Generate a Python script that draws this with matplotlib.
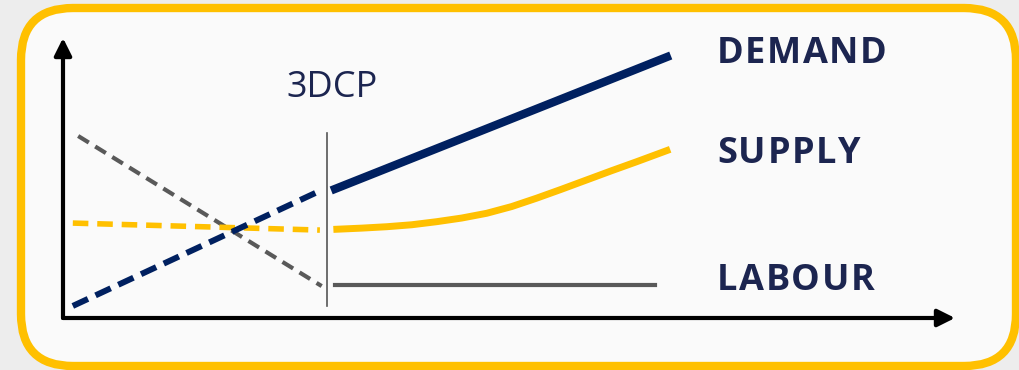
import matplotlib.pyplot as plt
import numpy as np
from matplotlib.patches import FancyBboxPatch
from matplotlib.transforms import offset_copy

# Data (chart units: x 0..10 along the time axis, y 0..10 up the vertical axis)
demand_before_x = [0.11, 2.90]
demand_before_y = [0.43, 4.57]
demand_after_x = [3.05, 6.77]
demand_after_y = [4.61, 9.32]

supply_before_x = [0.11, 2.88]
supply_before_y = [3.39, 3.14]
supply_after_x = [3.07, 3.35, 3.63, 3.91, 4.19, 4.47, 4.75, 5.03, 5.31, 5.59, 5.87, 6.15, 6.43, 6.77]
supply_after_y = [3.17, 3.21, 3.26, 3.33, 3.44, 3.57, 3.74, 3.98, 4.28, 4.60, 4.93, 5.26, 5.58, 5.98]

labour_before_x = [0.17, 2.90]
labour_before_y = [6.50, 1.14]
labour_after_x = [3.05, 6.64]
labour_after_y = [1.18, 1.18]

event_x = 2.96
event_span = [0.43, 6.61]
event_label = "3DCP"

series_labels = ["DEMAND", "SUPPLY", "LABOUR"]
label_base_y = [9.11, 5.54, 1.00]

# Colours
navy = "#002060"
gold = "#FFC000"
grey = "#595959"
text_col = "#1c2550"

fig = plt.figure(figsize=(10.2, 3.7), dpi=100)
fig.patch.set_facecolor("#ededed")

# background frame (pixel-like units)
bg = fig.add_axes([0, 0, 1, 1])
bg.set_xlim(0, 1020)
bg.set_ylim(370, 0)
bg.axis("off")
frame = FancyBboxPatch((21, 8), 995, 358, boxstyle="round,pad=0,rounding_size=52",
                       facecolor="#fafafa", edgecolor=gold, lw=6)
bg.add_patch(frame)

# chart axes: origin at the axis corner
ax = fig.add_axes([63 / 1020, (370 - 318) / 370, 892 / 1020, 280 / 370])
ax.set_xlim(0, 10)
ax.set_ylim(0, 10)
ax.axis("off")
ax.patch.set_alpha(0)

# axes arrows
arrow = dict(arrowstyle="-|>", lw=3, color="black", mutation_scale=26, shrinkA=0, shrinkB=0)
ax.annotate("", xy=(10, 0), xytext=(0, 0), arrowprops=arrow, annotation_clip=False)
ax.annotate("", xy=(0, 10), xytext=(0, 0), arrowprops=arrow, annotation_clip=False)

# dashed "before" lines
ax.plot(labour_before_x, labour_before_y, color=grey, lw=3, dashes=(3.0, 1.8))
ax.plot(supply_before_x, supply_before_y, color=gold, lw=4, dashes=(2.8, 1.6))
ax.plot(demand_before_x, demand_before_y, color=navy, lw=4.3, dashes=(2.8, 1.4))

# event marker
ax.plot([event_x, event_x], event_span, color="#555555", lw=1.2)
ax.text(3.02, 7.89, event_label, ha="center", va="baseline", fontsize=26,
        family="Open Sans", color=text_col)

# solid "after" lines
ax.plot(labour_after_x, labour_after_y, color=grey, lw=3)
ax.plot(supply_after_x, supply_after_y, color=gold, lw=5, solid_joinstyle="round")
ax.plot(demand_after_x, demand_after_y, color=navy, lw=6)

# labels with letter spacing
renderer = fig.canvas.get_renderer()
track = 1.6  # extra pixels between letters
props = dict(fontsize=26, fontweight="bold", family="Open Sans")


def text_width(s):
    t = fig.text(0, 0, s, **props)
    w = t.get_window_extent(renderer).width
    t.remove()
    return w


for lab, y in zip(series_labels, label_base_y):
    for i, ch in enumerate(lab):
        off = text_width(lab[:i + 1]) - text_width(ch) + i * track
        tr = offset_copy(ax.transData, fig=fig, x=off, y=0, units="dots")
        ax.text(7.33, y, ch, ha="left", va="baseline", color=text_col, transform=tr, **props)

fig.savefig("out.png", dpi=100, facecolor=fig.get_facecolor())
